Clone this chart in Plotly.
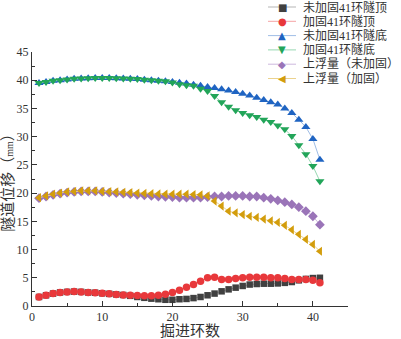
import plotly.graph_objects as go

rings = list(range(1, 42))

s_top_unreinf = [1.6, 1.9, 2.2, 2.4, 2.5, 2.55, 2.5, 2.4, 2.35, 2.25, 2.15, 2.05, 1.95, 1.8, 1.6,
                 1.45, 1.3, 1.2, 1.1, 1.1, 1.2, 1.25, 1.4, 1.6, 1.9, 2.2, 2.6, 2.95, 3.25, 3.55,
                 3.8, 3.9, 3.95, 3.95, 4.0, 4.1, 4.25, 4.55, 4.8, 4.95, 5.0]
s_top_reinf = [1.6, 1.9, 2.2, 2.4, 2.5, 2.55, 2.5, 2.4, 2.35, 2.25, 2.15, 2.05, 1.95, 1.9, 1.85,
               1.8, 1.8, 1.9, 2.1, 2.4, 2.8, 3.3, 3.8, 4.4, 5.0, 5.1, 4.7, 4.7, 4.85, 5.0,
               5.1, 5.1, 5.1, 5.0, 5.0, 4.85, 4.7, 4.7, 4.7, 4.55, 4.1]
s_bot_unreinf = [39.5, 39.7, 39.9, 40.0, 40.15, 40.25, 40.3, 40.35, 40.4, 40.4, 40.4, 40.35, 40.3,
                 40.25, 40.2, 40.1, 40.0, 39.9, 39.8, 39.7, 39.55, 39.4, 39.2, 39.0, 38.8, 38.6,
                 38.4, 38.2, 37.9, 37.6, 37.3, 36.9, 36.5, 36.1, 35.7, 35.0, 34.2, 33.0, 31.7,
                 29.6, 25.9]
s_bot_reinf = [39.5, 39.7, 39.9, 40.0, 40.15, 40.25, 40.3, 40.35, 40.4, 40.4, 40.4, 40.35, 40.3,
               40.25, 40.2, 40.1, 40.0, 39.9, 39.8, 39.6, 39.3, 39.1, 39.0, 38.5, 38.1, 37.2,
               36.1, 35.3, 34.7, 34.2, 33.8, 33.5, 33.0, 32.6, 32.0, 31.3, 30.1, 28.5, 26.9,
               24.8, 22.1]
s_up_unreinf = [19.1, 19.4, 19.7, 19.9, 20.1, 20.2, 20.3, 20.3, 20.3, 20.2, 20.1, 20.0, 19.9, 19.8,
                19.7, 19.6, 19.5, 19.4, 19.35, 19.3, 19.2, 19.2, 19.2, 19.2, 19.3, 19.4, 19.4,
                19.5, 19.5, 19.5, 19.4, 19.4, 19.2, 19.0, 18.7, 18.4, 18.0, 17.5, 16.8, 15.9, 14.4]
s_up_reinf = [19.2, 19.5, 19.8, 20.0, 20.2, 20.3, 20.4, 20.4, 20.4, 20.3, 20.25, 20.2, 20.15, 20.1,
              20.0, 19.95, 19.9, 19.85, 19.8, 19.8, 19.8, 19.8, 19.75, 19.7, 19.5, 18.6, 17.7,
              16.8, 16.5, 16.2, 15.9, 15.7, 15.4, 15.1, 14.8, 14.3, 13.5, 12.7, 11.8, 10.9, 9.7]

names = ["未加固41环隧顶", "加固41环隧顶", "未加固41环隧底", "加固41环隧底",
         "上浮量（未加固）", "上浮量（加固）"]
series = [s_top_unreinf, s_top_reinf, s_bot_unreinf, s_bot_reinf, s_up_unreinf, s_up_reinf]
marker_colors = ["#404040", "#e8383b", "#1f64c2", "#22a559", "#9a74b8", "#d39d0c"]
line_colors = ["#b5b5b5", "#f5a3a4", "#9fbde6", "#97d8b2", "#cdb9de", "#ebd28d"]
symbols = ["square", "circle", "triangle-up", "triangle-down", "diamond", "triangle-left"]
sizes = [6.5, 7.5, 8, 8, 7.5, 8]
legend_glyphs = ["■", "●", "▲", "▼", "◆", "◀"]

FONT = "Liberation Serif, Noto Sans CJK SC, serif"

fig = go.Figure()
for name, ys, mc, lc, sym, sz in zip(names, series, marker_colors, line_colors, symbols, sizes):
    fig.add_trace(go.Scatter(
        x=rings, y=ys, name=name, mode="lines+markers",
        line=dict(color=lc, width=1),
        marker=dict(symbol=sym, size=sz, color=mc, line=dict(width=0)),
        showlegend=False,
    ))

FIG_W, FIG_H = 401, 339
# plot area in page pixels: x 32..348, y 52..306
PL, PR, PT, PB = 32, 348, 52, 306
L, T = PL, PT
R, B = FIG_W - PR, FIG_H - PB
W, H = PR - PL, PB - PT

def px_x(p):
    return (p - PL) / W

def px_y(p):
    return (PB - p) / H

row_y = [7, 21.3, 35.6, 49.9, 64.2, 78.5]
for i, name in enumerate(names):
    yy = px_y(row_y[i])
    fig.add_shape(type="line", xref="paper", yref="paper",
                  x0=px_x(268), x1=px_x(296), y0=yy, y1=yy,
                  line=dict(color=line_colors[i], width=1))
    fig.add_annotation(xref="paper", yref="paper", x=px_x(282), y=yy,
                       text=legend_glyphs[i], showarrow=False,
                       font=dict(family="DejaVu Sans", size=10, color=marker_colors[i]),
                       xanchor="center", yanchor="middle")
    fig.add_annotation(xref="paper", yref="paper", x=px_x(301), y=yy,
                       text=name, showarrow=False,
                       font=dict(family=FONT, size=12, color="#333333"),
                       xanchor="left", yanchor="middle")

axis_common = dict(
    showline=True, linecolor="#333333", linewidth=1, mirror=False,
    ticks="inside", ticklen=5, tickcolor="#333333", tickwidth=1,
    showgrid=False, zeroline=False, automargin=False,
    tickfont=dict(family=FONT, size=12, color="#333333"),
)

fig.update_xaxes(range=[0, 45], tick0=0, dtick=10,
                 minor=dict(dtick=5, ticks="inside", ticklen=3, tickcolor="#333333"),
                 title=dict(text="掘进环数", font=dict(family=FONT, size=15, color="#333333"),
                            standoff=4),
                 **axis_common)
fig.update_yaxes(range=[0, 45], tick0=0, dtick=5,
                 minor=dict(dtick=2.5, ticks="inside", ticklen=3, tickcolor="#333333"),
                 title=dict(text="隧道位移（<span style='font-size:10px'>mm</span>）",
                            font=dict(family=FONT, size=15, color="#333333"), standoff=2),
                 **axis_common)

fig.update_layout(
    width=FIG_W, height=FIG_H,
    margin=dict(l=L, r=R, t=T, b=B, autoexpand=False),
    paper_bgcolor="white", plot_bgcolor="white",
    font=dict(family=FONT, color="#333333"),
)

fig.write_html("out.html",
               config={"displayModeBar": False},
               post_script="document.body.style.margin='0';document.body.style.overflow='hidden';")
